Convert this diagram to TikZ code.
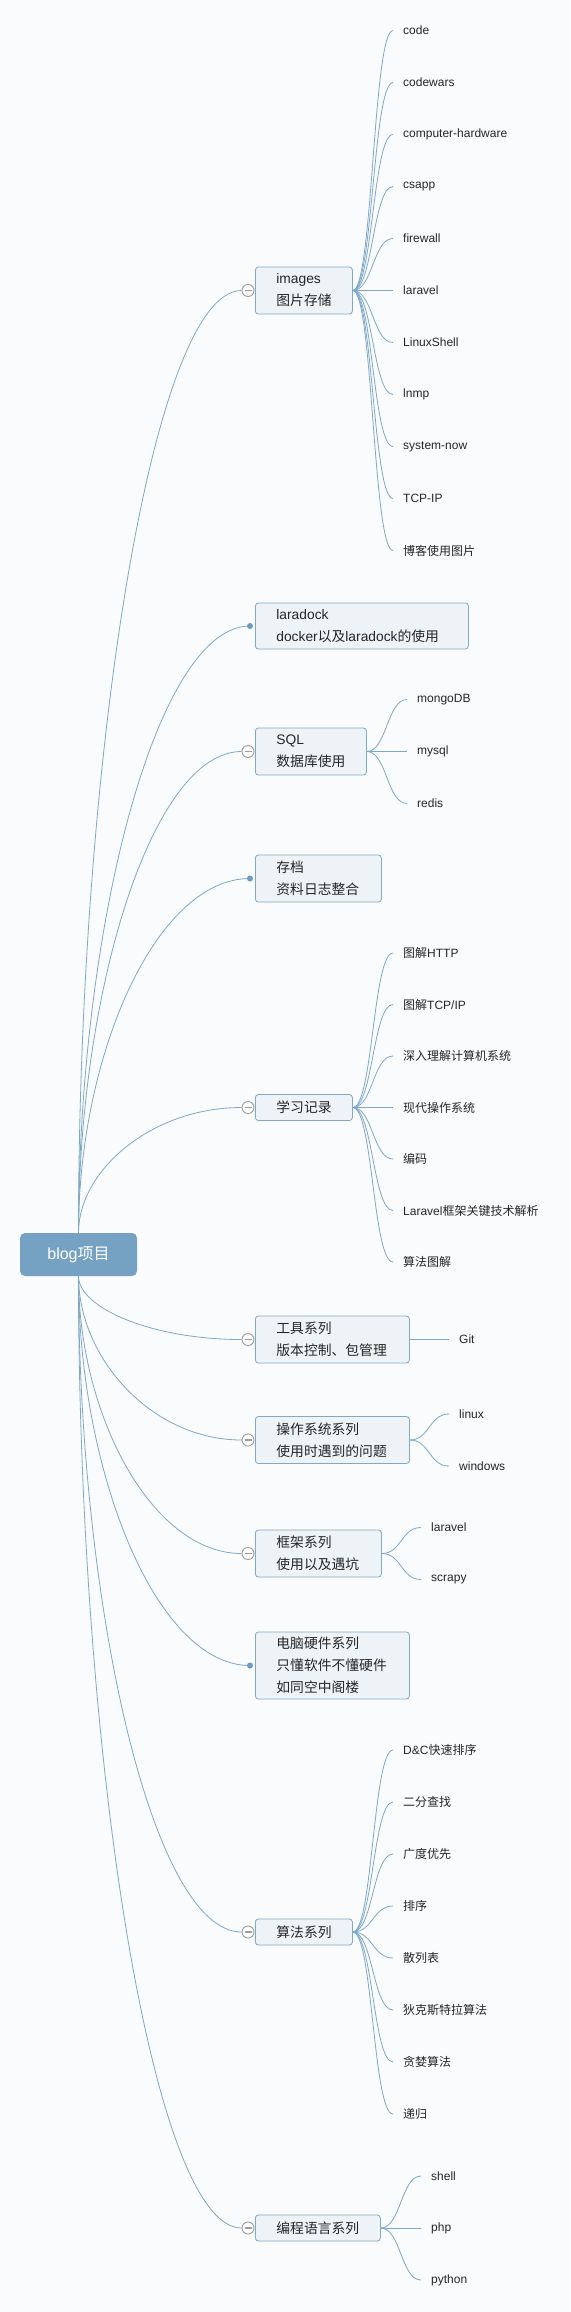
\documentclass[tikz,border=0pt]{standalone}
\usepackage{fontspec}
\setmainfont{Liberation Sans}
\newfontfamily\zh{Noto Sans CJK SC}
\usetikzlibrary{calc}

\definecolor{bgcol}{HTML}{FAFBFC}
\definecolor{linecol}{HTML}{7EA8C9}
\definecolor{rootcol}{HTML}{75A2C2}
\definecolor{boxfill}{HTML}{EEF3F7}
\definecolor{boxline}{HTML}{81A8C7}
\definecolor{knobcol}{HTML}{9C9C9C}
\definecolor{dotcol}{HTML}{6F9BC0}
\definecolor{txtcol}{HTML}{262626}

\tikzset{
  rootbox/.style={fill=rootcol, rounded corners=5pt, minimum width=117pt, minimum height=43pt,
    text=white, font=\fontsize{16}{18}\selectfont},
  topic/.style={draw=boxline, fill=boxfill, rounded corners=3pt, line width=0.8pt, anchor=west,
    inner xsep=21pt, inner ysep=2pt, align=left, text=txtcol, font=\fontsize{13.8}{22}\selectfont},
  leaf/.style={anchor=west, inner xsep=10pt, text=txtcol, font=\fontsize{12}{14}\selectfont},
  knob/.style={circle, draw=knobcol, fill=white, line width=0.9pt, minimum size=12pt, inner sep=0pt,
    path picture={\draw[knobcol, line width=1.2pt] ([xshift=-3.5pt]path picture bounding box.center)
      -- ([xshift=3.5pt]path picture bounding box.center);}},
  tip/.style={circle, fill=dotcol, minimum size=6pt, inner sep=0pt},
  branch/.style={draw=linecol, line width=0.8pt,
    to path={.. controls ($(\tikztostart)!.5!(\tikztostart|-\tikztotarget)$)
      and ($(\tikztostart|-\tikztotarget)!.45!(\tikztotarget)$) .. (\tikztotarget)}},
  twig/.style={draw=linecol, line width=0.8pt,
    to path={.. controls +(20,0) and +(-20,0) .. (\tikztotarget)}},
}

\begin{document}
\begin{tikzpicture}[x=1pt, y=-1pt]
  \fill[bgcol] (0,0) rectangle (570,2312);
  \useasboundingbox (0,0) rectangle (570,2312);

  \node[rootbox] (root) at (78.5,1254.5) {blog{\zh 项目}};

  \node[topic, text width=55pt, minimum height=47pt] (images) at (255,290.5) {images\\{\zh 图片存储}};
  \node[topic, text width=171pt, minimum height=46pt] (laradock) at (255,626) {laradock\\docker{\zh 以及}laradock{\zh 的使用}};
  \node[topic, text width=69pt, minimum height=47pt] (sql) at (255,751.5) {SQL\\{\zh 数据库使用}};
  \node[topic, text width=84pt, minimum height=47pt] (archive) at (255,878.5) {{\zh 存档}\\{\zh 资料日志整合}};
  \node[topic, text width=55pt, minimum height=26pt] (study) at (255,1107.5) {{\zh 学习记录}};
  \node[topic, text width=112pt, minimum height=47pt] (tools) at (255,1339.5) {{\zh 工具系列}\\{\zh 版本控制、包管理}};
  \node[topic, text width=112pt, minimum height=47pt] (os) at (255,1440) {{\zh 操作系统系列}\\{\zh 使用时遇到的问题}};
  \node[topic, text width=84pt, minimum height=47pt] (frame) at (255,1553.5) {{\zh 框架系列}\\{\zh 使用以及遇坑}};
  \node[topic, text width=112pt, minimum height=67pt] (hard) at (255,1665.5) {{\zh 电脑硬件系列}\\{\zh 只懂软件不懂硬件}\\{\zh 如同空中阁楼}};
  \node[topic, text width=55pt, minimum height=26pt] (algo) at (255,1932) {{\zh 算法系列}};
  \node[topic, text width=83pt, minimum height=26pt] (lang) at (255,2228) {{\zh 编程语言系列}};

  \node[knob] (k1) at ([xshift=-7pt]images.west) {};
  \node[knob] (k3) at ([xshift=-7pt]sql.west) {};
  \node[knob] (k5) at ([xshift=-7pt]study.west) {};
  \node[knob] (k6) at ([xshift=-7pt]tools.west) {};
  \node[knob] (k7) at ([xshift=-7pt]os.west) {};
  \node[knob] (k8) at ([xshift=-7pt]frame.west) {};
  \node[knob] (k10) at ([xshift=-7pt]algo.west) {};
  \node[knob] (k11) at ([xshift=-7pt]lang.west) {};

  \draw[branch] (root.north) to (k1.west);
  \draw[branch] (root.north) to ([xshift=-5pt]laradock.west);
  \draw[branch] (root.north) to (k3.west);
  \draw[branch] (root.north) to ([xshift=-5pt]archive.west);
  \draw[branch] (root.north) to (k5.west);
  \draw[branch] (root.south) to (k6.west);
  \draw[branch] (root.south) to (k7.west);
  \draw[branch] (root.south) to (k8.west);
  \draw[branch] (root.south) to ([xshift=-5pt]hard.west);
  \draw[branch] (root.south) to (k10.west);
  \draw[branch] (root.south) to (k11.west);

  \node[tip] (d2) at ([xshift=-5pt]laradock.west) {};
  \node[tip] (d4) at ([xshift=-5pt]archive.west) {};
  \node[tip] (d9) at ([xshift=-5pt]hard.west) {};

  \node[leaf] (i1) at (393,30.5) {code};
  \node[leaf] (i2) at (393,82.5) {codewars};
  \node[leaf] (i3) at (393,134.5) {computer-hardware};
  \node[leaf] (i4) at (393,186.5) {csapp};
  \node[leaf] (i5) at (393,238.5) {firewall};
  \node[leaf] (i6) at (393,290.5) {laravel};
  \node[leaf] (i7) at (393,342.5) {LinuxShell};
  \node[leaf] (i8) at (393,394.5) {lnmp};
  \node[leaf] (i9) at (393,446.5) {system-now};
  \node[leaf] (i10) at (393,498.5) {TCP-IP};
  \node[leaf] (i11) at (393,550.5) {{\zh 博客使用图片}};
  \draw[twig] (images.east) to (i1.west);
  \draw[twig] (images.east) to (i2.west);
  \draw[twig] (images.east) to (i3.west);
  \draw[twig] (images.east) to (i4.west);
  \draw[twig] (images.east) to (i5.west);
  \draw[twig] (images.east) to (i6.west);
  \draw[twig] (images.east) to (i7.west);
  \draw[twig] (images.east) to (i8.west);
  \draw[twig] (images.east) to (i9.west);
  \draw[twig] (images.east) to (i10.west);
  \draw[twig] (images.east) to (i11.west);

  \node[leaf] (s1) at (407,699.5) {mongoDB};
  \node[leaf] (s2) at (407,751.5) {mysql};
  \node[leaf] (s3) at (407,803.5) {redis};
  \draw[twig] (sql.east) to (s1.west);
  \draw[twig] (sql.east) to (s2.west);
  \draw[twig] (sql.east) to (s3.west);

  \node[leaf] (r1) at (393,953) {{\zh 图解}HTTP};
  \node[leaf] (r2) at (393,1004.5) {{\zh 图解}TCP/IP};
  \node[leaf] (r3) at (393,1056) {{\zh 深入理解计算机系统}};
  \node[leaf] (r4) at (393,1107.5) {{\zh 现代操作系统}};
  \node[leaf] (r5) at (393,1159) {{\zh 编码}};
  \node[leaf] (r6) at (393,1210.5) {Laravel{\zh 框架关键技术解析}};
  \node[leaf] (r7) at (393,1262) {{\zh 算法图解}};
  \draw[twig] (study.east) to (r1.west);
  \draw[twig] (study.east) to (r2.west);
  \draw[twig] (study.east) to (r3.west);
  \draw[twig] (study.east) to (r4.west);
  \draw[twig] (study.east) to (r5.west);
  \draw[twig] (study.east) to (r6.west);
  \draw[twig] (study.east) to (r7.west);

  \node[leaf] (t1) at (449,1339.5) {Git};
  \draw[twig] (tools.east) to (t1.west);

  \node[leaf] (o1) at (449,1414) {linux};
  \node[leaf] (o2) at (449,1466) {windows};
  \draw[twig] (os.east) to (o1.west);
  \draw[twig] (os.east) to (o2.west);

  \node[leaf] (f1) at (421,1527.5) {laravel};
  \node[leaf] (f2) at (421,1579.5) {scrapy};
  \draw[twig] (frame.east) to (f1.west);
  \draw[twig] (frame.east) to (f2.west);

  \node[leaf] (a1) at (393,1750) {D\&C{\zh 快速排序}};
  \node[leaf] (a2) at (393,1802) {{\zh 二分查找}};
  \node[leaf] (a3) at (393,1854) {{\zh 广度优先}};
  \node[leaf] (a4) at (393,1906) {{\zh 排序}};
  \node[leaf] (a5) at (393,1958) {{\zh 散列表}};
  \node[leaf] (a6) at (393,2010) {{\zh 狄克斯特拉算法}};
  \node[leaf] (a7) at (393,2062) {{\zh 贪婪算法}};
  \node[leaf] (a8) at (393,2114) {{\zh 递归}};
  \draw[twig] (algo.east) to (a1.west);
  \draw[twig] (algo.east) to (a2.west);
  \draw[twig] (algo.east) to (a3.west);
  \draw[twig] (algo.east) to (a4.west);
  \draw[twig] (algo.east) to (a5.west);
  \draw[twig] (algo.east) to (a6.west);
  \draw[twig] (algo.east) to (a7.west);
  \draw[twig] (algo.east) to (a8.west);

  \node[leaf] (p1) at (421,2176) {shell};
  \node[leaf] (p2) at (421,2228) {php};
  \node[leaf] (p3) at (421,2280) {python};
  \draw[twig] (lang.east) to (p1.west);
  \draw[twig] (lang.east) to (p2.west);
  \draw[twig] (lang.east) to (p3.west);
\end{tikzpicture}
\end{document}
